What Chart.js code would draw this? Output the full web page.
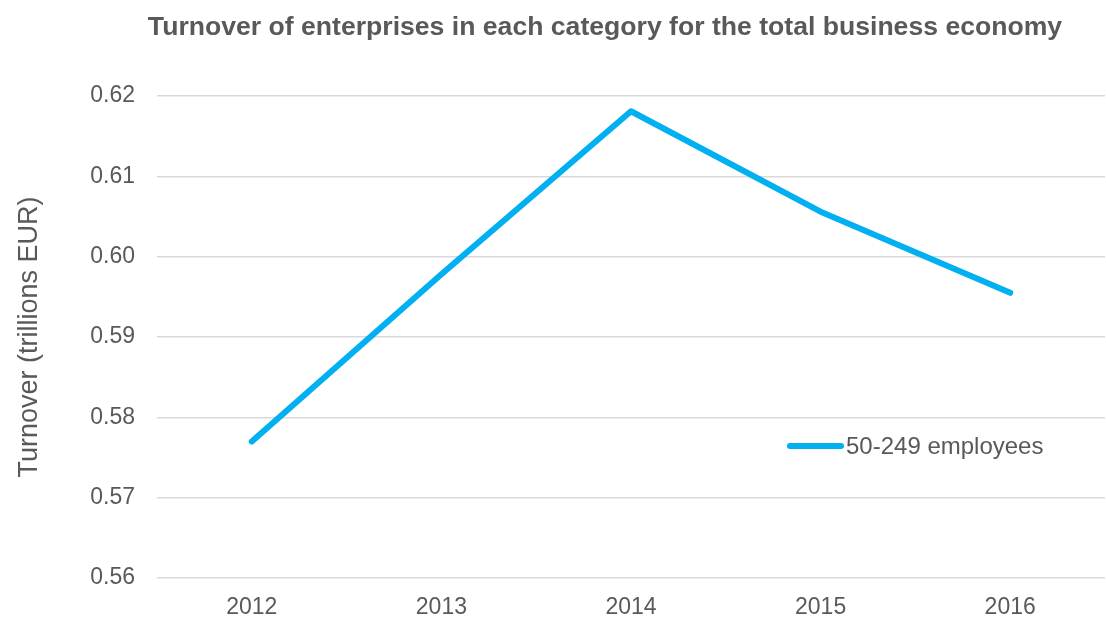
<!DOCTYPE html>
<html>
<head>
<meta charset="utf-8">
<title>Turnover of enterprises</title>
<script src="https://cdn.jsdelivr.net/npm/chart.js@4/dist/chart.umd.min.js"></script>
<style>
    html, body { margin: 0; padding: 0; background: #fff; }
    #wrap { width: 1106px; height: 620px; position: relative; }
</style>
</head>
<body>
<div id="wrap"><canvas id="turnoverChart"></canvas></div>
<script>
// data
const years = ['2012', '2013', '2014', '2015', '2016'];
const turnover = [0.5770, 0.5978, 0.6181, 0.6056, 0.5955];
const seriesName = '50-249 employees';
const chartTitle = 'Turnover of enterprises in each category for the total business economy';
const yTitle = 'Turnover (trillions EUR)';

const grey = '#595959';
const blue = '#00B0F0';
const fontFamily = '"Liberation Sans", Arial, sans-serif';

// title and in-plot legend are drawn by hand so they can sit where the original has them
const extras = {
    id: 'extras',
    afterDraw(chart) {
        const ctx = chart.ctx;
        ctx.save();
        ctx.fillStyle = grey;
        ctx.font = 'bold 26.6px ' + fontFamily;
        ctx.textAlign = 'center';
        ctx.textBaseline = 'middle';
        ctx.fillText(chartTitle, 605, 28);

        const ds = chart.data.datasets[0];
        ctx.strokeStyle = ds.borderColor;
        ctx.lineWidth = 6;
        ctx.lineCap = 'round';
        ctx.beginPath();
        ctx.moveTo(790, 446);
        ctx.lineTo(841, 446);
        ctx.stroke();
        ctx.font = '24px ' + fontFamily;
        ctx.textAlign = 'left';
        ctx.fillText(ds.label, 846, 447);
        ctx.restore();
    }
};

new Chart(document.getElementById('turnoverChart'), {
    type: 'line',
    data: {
        labels: years,
        datasets: [{
            label: seriesName,
            data: turnover,
            borderColor: blue,
            borderWidth: 6,
            borderCapStyle: 'round',
            borderJoinStyle: 'round',
            tension: 0,
            pointRadius: 0,
            fill: false
        }]
    },
    options: {
        responsive: true,
        maintainAspectRatio: false,
        animation: false,
        layout: { padding: { top: 96, right: 1, bottom: 0, left: 0 } },
        plugins: {
            legend: { display: false },
            title: { display: false },
            tooltip: { enabled: false }
        },
        scales: {
            x: {
                offset: true,
                grid: { display: false },
                border: { display: false },
                ticks: { color: grey, font: { family: fontFamily, size: 23 }, padding: 8 },
                afterFit: scale => { scale.height = 42; }
            },
            y: {
                min: 0.56,
                max: 0.62,
                grid: { color: '#d9d9d9', lineWidth: 1.5, drawTicks: false },
                border: { display: false },
                ticks: {
                    stepSize: 0.01,
                    color: grey,
                    padding: 22,
                    font: { family: fontFamily, size: 23 },
                    callback: v => v.toFixed(2)
                },
                title: {
                    display: true,
                    text: yTitle,
                    color: grey,
                    font: { family: fontFamily, size: 27 },
                    padding: { top: 13, bottom: 0 }
                },
                afterFit: scale => { scale.width = 157; }
            }
        }
    },
    plugins: [extras]
});
</script>
</body>
</html>
